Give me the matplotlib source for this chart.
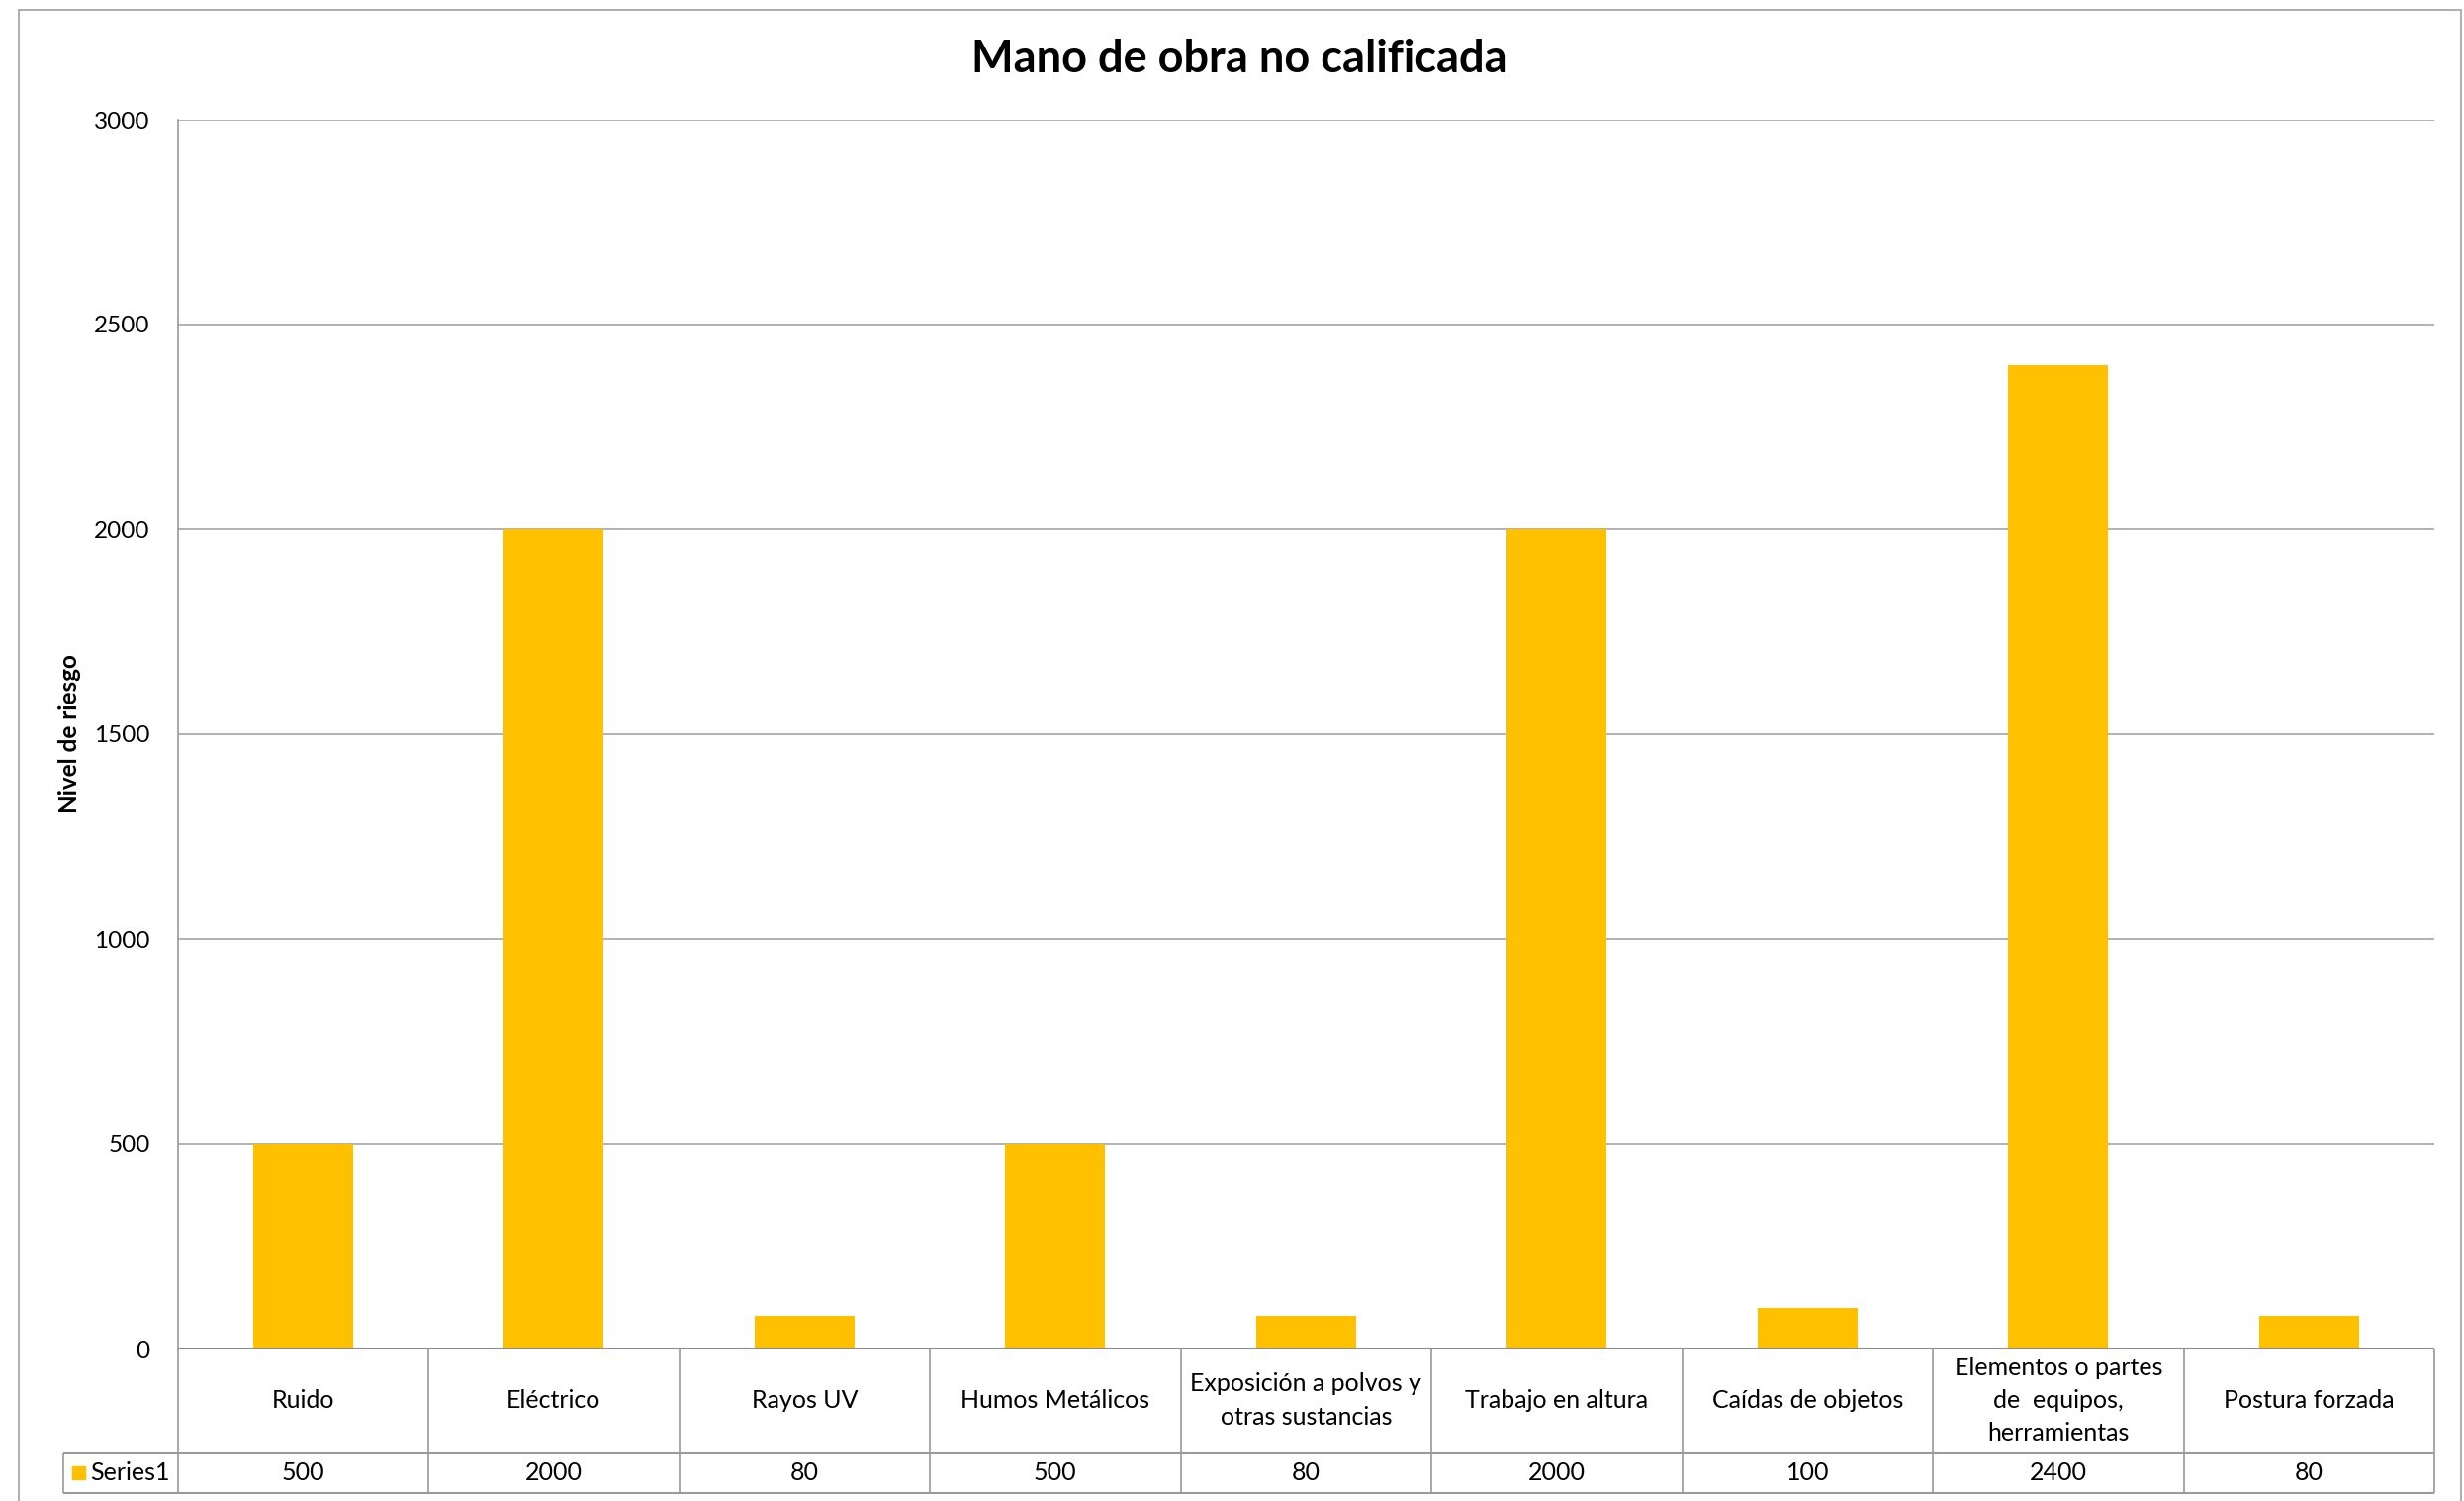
import matplotlib
matplotlib.use("Agg")
import matplotlib.pyplot as plt
from matplotlib.patches import Rectangle

categories = ["Ruido", "Eléctrico", "Rayos UV", "Humos Metálicos",
              "Exposición a polvos y\notras sustancias", "Trabajo en altura",
              "Caídas de objetos", "Elementos o partes\nde  equipos,\nherramientas",
              "Postura forzada"]
values = [500, 2000, 80, 500, 80, 2000, 100, 2400, 80]
series_name = "Series1"
yticks = [0, 500, 1000, 1500, 2000, 2500, 3000]

plt.rcParams["font.family"] = ["Lato", "DejaVu Sans"]

W, H = 2491, 1517
fig = plt.figure(figsize=(W / 100, H / 100), dpi=100)
bar_color = "#FFC000"
grid_color = "#A6A6A6"
line_color = "#9A9A9A"

# chart area border
fig.patches.append(Rectangle((19 / W, -0.01), (2488 - 19) / W, 1 - 9.5 / H + 0.01,
                             transform=fig.transFigure, fill=False,
                             edgecolor="#A0A0A0", linewidth=1.2))

left, right = 179.5 / W, 2461 / W
zero_y = 1 - 1363 / H
top_y = 1 - 121 / H
ax = fig.add_axes([left, zero_y, right - left, top_y - zero_y])

x = list(range(len(categories)))
ax.bar(x, values, width=0.4, color=bar_color, zorder=3)
ax.set_xlim(-0.5, len(categories) - 0.5)
ax.set_ylim(0, 3000)
ax.set_yticks(yticks)
ax.set_yticklabels([str(t) for t in yticks], fontsize=17.5)
ax.tick_params(axis="y", length=0, pad=20)
ax.set_xticks([])
ax.grid(axis="y", color=grid_color, linewidth=1.2, zorder=0)
for s in ["top", "right", "bottom"]:
    ax.spines[s].set_visible(False)
ax.spines["left"].set_color(line_color)
ax.spines["left"].set_linewidth(1.2)
ax.axhline(0, color="#8C8C8C", linewidth=2.2, zorder=4)

fig.text(1253 / W, 1 - 60 / H, "Mano de obra no calificada",
         ha="center", va="center", fontsize=32.5, fontweight="bold")
fig.text(70 / W, 1 - 742 / H, "Nivel de riesgo", rotation=90, ha="center",
         va="center", fontsize=17.5, fontweight="bold")

# data table under the plot
tb_bottom = 1 - 1509 / H
tax = fig.add_axes([left, tb_bottom, right - left, zero_y - tb_bottom])
tax.set_xlim(-0.5, len(categories) - 0.5)
row_split = (1509 - 1468) / (1509 - 1363)
tax.set_ylim(0, 1)
tax.axis("off")
n = len(categories)
col_px = (2461 - 179.5) / n
key_left = -0.5 - (179.5 - 63.5) / col_px
tax.vlines([i - 0.5 for i in range(n + 1)], 0, 1, color=line_color, linewidth=1.2, clip_on=False)
tax.hlines(row_split, key_left, n - 0.5, color=line_color, linewidth=1.5, clip_on=False)
tax.hlines(0, key_left, n - 0.5, color=line_color, linewidth=1.5, clip_on=False)
tax.vlines(key_left, 0, row_split, color=line_color, linewidth=1.2, clip_on=False)
for i, (c, v) in enumerate(zip(categories, values)):
    tax.text(i, (1 + row_split) / 2, c, ha="center", va="center", fontsize=18,
             linespacing=1.55)
    tax.text(i, row_split / 2, str(v), ha="center", va="center", fontsize=18)
tax.add_patch(Rectangle((key_left + 9.5 / col_px, row_split / 2 - 6.5 / 146),
                        13 / col_px, 13 / 146, color=bar_color, clip_on=False))
tax.text(key_left + 28 / col_px, row_split / 2, series_name, ha="left", va="center",
         fontsize=18, clip_on=False)

fig.savefig("out.png", dpi=100)
